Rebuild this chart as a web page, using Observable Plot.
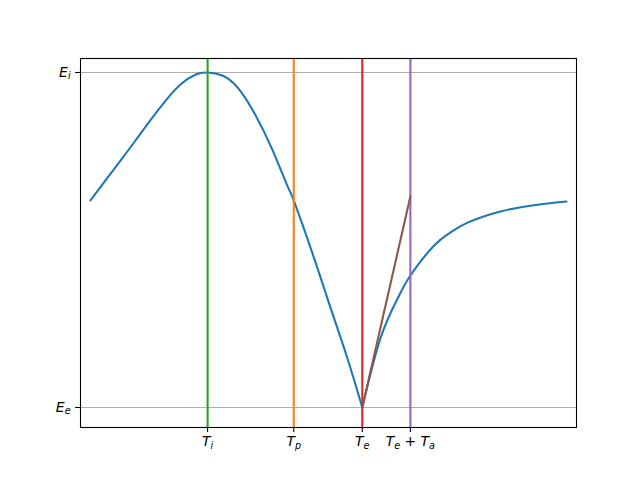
<!DOCTYPE html>
<html>
<head>
<meta charset="utf-8">
<script src="https://cdn.jsdelivr.net/npm/d3@7"></script>
<script src="https://cdn.jsdelivr.net/npm/@observablehq/plot@0.6"></script>
<style>
  body { margin: 0; background: #fff; }
  svg text { white-space: pre; }
</style>
</head>
<body>
<div id="chart"></div>
<script>
// Normalised time (0 = start of cycle, 1 = end) and normalised flow derivative (0 = Ee, 1 = Ei)
const openTime   = [0, 0.0315, 0.063, 0.0945, 0.126, 0.158, 0.189, 0.221, 0.246, 0.277, 0.311, 0.347, 0.382, 0.416, 0.427, 0.469, 0.504, 0.539, 0.571];
const openValue  = [0.618, 0.678, 0.737, 0.797, 0.858, 0.916, 0.964, 0.994, 1.0, 0.991, 0.952, 0.872, 0.770, 0.654, 0.618, 0.449, 0.299, 0.150, 0.0];
const returnTime  = [0.571, 0.609, 0.644, 0.672, 0.721, 0.756, 0.791, 0.861, 0.931, 1.0];
const returnValue = [0.0, 0.206, 0.322, 0.394, 0.482, 0.522, 0.551, 0.585, 0.604, 0.615];

const Ti = 0.246, Tp = 0.427, Te = 0.571, TeTa = 0.672;
const Ee = 0, Ei = 1;
const tangentTime  = [Te, TeTa];
const tangentValue = [0, 0.630];

const xTicks = [Ti, Tp, Te, TeTa];
const xTickLabels = ["T_i", "T_p", "T_e", "T_e + T_a"];
const yTicks = [Ee, Ei];
const yTickLabels = ["E_e", "E_i"];

const curve = [
  ...openTime.map((t, i) => ({t, v: openValue[i], seg: "open"})),
  ...returnTime.map((t, i) => ({t, v: returnValue[i], seg: "return"}))
];
const tangent = tangentTime.map((t, i) => ({t, v: tangentValue[i]}));

const markers = [
  {t: Tp, c: "#ff7f0e"},
  {t: Ti, c: "#2ca02c"},
  {t: Te, c: "#d62728"},
  {t: TeTa, c: "#9467bd"}
];

const plot = Plot.plot({
  width: 640,
  height: 480,
  marginLeft: 80,
  marginRight: 64,
  marginTop: 58,
  marginBottom: 53,
  style: {fontFamily: "DejaVu Sans", fontSize: "13.9px", color: "black", background: "white"},
  x: {domain: [-0.021, 1.021]},
  y: {domain: [-0.0597, 1.0418]},
  marks: [
    Plot.ruleY(yTicks, {stroke: "#b0b0b0", strokeWidth: 1.1}),
    Plot.line(curve, {x: "t", y: "v", z: "seg", stroke: "#1f77b4", strokeWidth: 2.08, curve: "natural"}),
    Plot.ruleX(markers, {x: "t", stroke: "c", strokeWidth: 2.08}),
    Plot.line(tangent, {x: "t", y: "v", stroke: "#8c564b", strokeWidth: 2.08}),
    Plot.frame({stroke: "black", strokeWidth: 1.1}),
    Plot.axisX({ticks: xTicks, tickFormat: (d, i) => xTickLabels[i], tickSize: 4.9, tickPadding: 4, label: null, strokeWidth: 1.1}),
    Plot.axisY({ticks: yTicks, tickFormat: (d, i) => yTickLabels[i], tickSize: 4.9, tickPadding: 5, label: null, strokeWidth: 1.1})
  ]
});

// Render "X_s" tick labels as italic letter with subscript (mathtext style)
const NS = "http://www.w3.org/2000/svg";
function mathify(textEl) {
  const s = textEl.textContent;
  if (!s.includes("_")) return;
  textEl.textContent = "";
  const tokens = s.match(/[A-Za-z]_[a-z]|[^_A-Za-z]+/g);
  let pending = 0;
  for (const tok of tokens) {
    if (/^[A-Za-z]_[a-z]$/.test(tok)) {
      const main = document.createElementNS(NS, "tspan");
      main.setAttribute("font-style", "italic");
      if (pending) main.setAttribute("dy", pending);
      main.textContent = tok[0];
      textEl.appendChild(main);
      const sub = document.createElementNS(NS, "tspan");
      sub.setAttribute("font-style", "italic");
      sub.setAttribute("font-size", "9.7px");
      sub.setAttribute("dy", "2.5");
      sub.textContent = tok[2];
      textEl.appendChild(sub);
      pending = -2.5;
    } else {
      const op = document.createElementNS(NS, "tspan");
      if (pending) op.setAttribute("dy", pending);
      pending = 0;
      op.textContent = tok;
      textEl.appendChild(op);
    }
  }
}
plot.querySelectorAll('g[aria-label$="tick label"] text').forEach(mathify);

document.getElementById("chart").appendChild(plot);
</script>
</body>
</html>
